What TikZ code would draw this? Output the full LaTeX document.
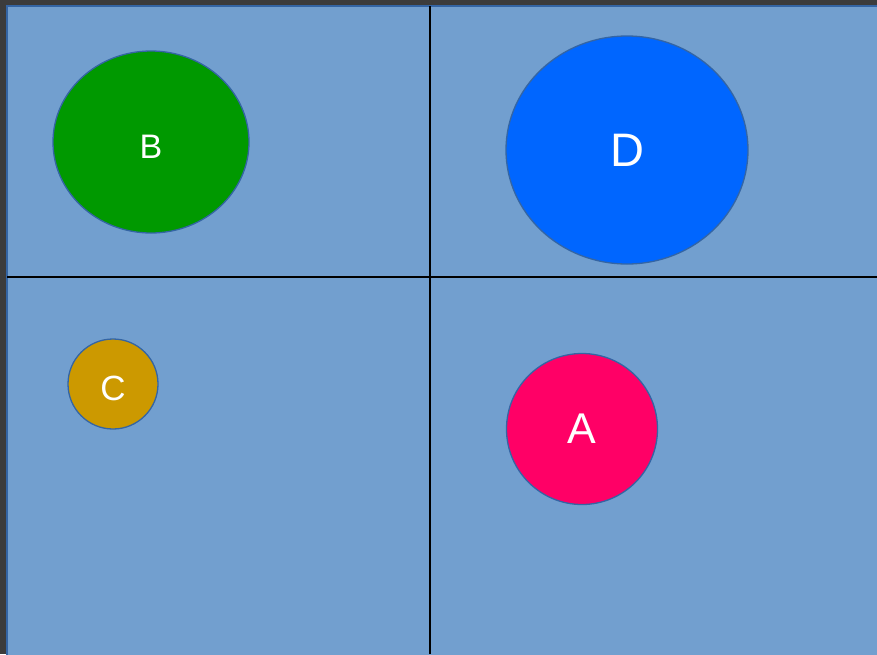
\documentclass[tikz,border=0pt]{standalone}
\usepackage{fontspec}
\setmainfont{Liberation Sans}
\usetikzlibrary{shapes.geometric}
\definecolor{frame}{HTML}{3C3C3C}
\definecolor{paper}{HTML}{729FCF}
\definecolor{rim}{HTML}{3465A4}
\definecolor{greenb}{HTML}{009900}
\definecolor{blued}{HTML}{0066FF}
\definecolor{goldc}{HTML}{CC9900}
\definecolor{pinka}{HTML}{FF0066}
\tikzset{
  blob/.style={ellipse,draw=rim,line width=1.3pt,inner sep=0pt,text=white},
  gridline/.style={draw=black,line width=1.6pt},
}
\newcommand{\lbl}[1]{\fontsize{#1}{#1}\selectfont}
\begin{document}
\begin{tikzpicture}[x=1pt,y=-1pt]
  \useasboundingbox (0,0) rectangle (877,654);
  \fill[frame] (0,0) rectangle (877,654);
  % the sheet
  \filldraw[fill=paper,draw=rim,line width=2pt] (7,6) rectangle (890,670);
  \coordinate (top) at (430,6);
  \coordinate (bot) at (430,654);
  \coordinate (lft) at (7,277);
  \coordinate (rgt) at (877,277);
  \draw[gridline] (top) -- (bot);
  \draw[gridline] (lft) -- (rgt);
  % the four blobs
  \node[blob,fill=greenb,minimum width=196pt,minimum height=182pt,font=\lbl{34},text height=32pt] (b) at (151,142) {B};
  \node[blob,fill=blued,minimum width=242pt,minimum height=228pt,font=\lbl{47}] (d) at (627,150) {D};
  \node[blob,fill=goldc,minimum width=90pt,minimum height=90pt,font=\lbl{35},text height=33pt] (c) at (113,384) {C};
  \node[blob,fill=pinka,minimum width=151pt,minimum height=151pt,font=\lbl{43}] (a) at (582,429) {A};
\end{tikzpicture}
\end{document}
